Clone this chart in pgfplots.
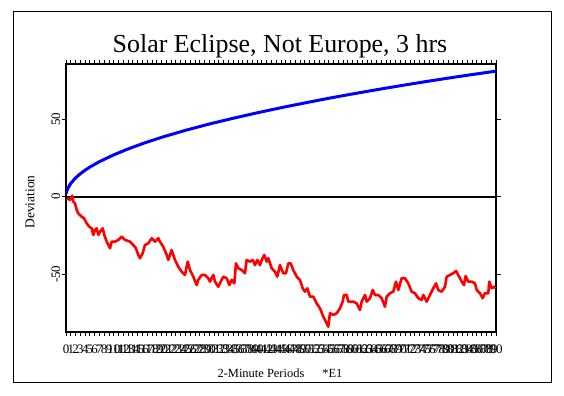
\documentclass[border=0pt]{standalone}
\usepackage{pgfplots}
\pgfplotsset{compat=1.18}
\usepackage{fontspec}
\setmainfont{Liberation Serif}
\definecolor{eblue}{RGB}{0,0,255}
\definecolor{ered}{RGB}{255,0,0}
\begin{document}
\begin{tikzpicture}
\useasboundingbox (0,0) rectangle (564bp,396bp);
\draw[line width=1bp] (13bp,13bp) rectangle (551bp,384bp);
\begin{axis}[
  at={(66bp,64bp)}, anchor=south west,
  scale only axis, width=430bp, height=268bp,
  xmin=0, xmax=90, ymin=-87.3, ymax=85.6,
  xtick={0,...,90}, ytick={-50,0,50},
  xtick pos=both, xticklabel pos=lower,
  ytick pos=both, yticklabel pos=left,
  tick align=outside, major tick length=4.5bp,
  tick style={black, line width=0.9bp},
  axis line style={line width=1.2bp},
  /pgf/number format/assume math mode=true,
  ticklabel style={font=\fontsize{13}{13}\selectfont},
  xticklabel style={inner sep=1.5bp, yshift=-7bp},
  yticklabel style={rotate=90, anchor=south, inner sep=1bp},
  clip=true,
]
\addplot[black, line width=1.8bp] coordinates {(0,0) (90,0)};
\addplot[eblue, line width=3bp] coordinates {
(0,2) (0.25,4.3) (0.5,6.0) (1,8.6) (2,12.1) (3,14.8) (4,17.1) (5,19.1)
(7,22.6) (10,27.0) (13,30.8) (16,34.2) (20,38.3) (25,42.8) (30,46.9)
(35,50.6) (40,54.1) (45,57.4) (50,60.5) (55,63.5) (60,66.3) (65,69.0)
(70,71.6) (75,74.1) (80,76.5) (85,78.8) (90,81.0)};
\addplot[ered, line width=2.6bp, line join=round] coordinates {
(0.15,-1.0) (0.84,-2.1) (1.32,0.6) (1.53,-3.2) (1.88,-4.3) (2.24,-8.6)
(2.57,-10.7) (3.29,-12.9) (3.77,-13.9) (4.33,-17.2) (4.88,-19.4) (5.38,-20.4)
(5.71,-24.7) (6.07,-21.5) (6.43,-20.4) (6.76,-24.7) (7.12,-22.6) (7.68,-20.4)
(8.02,-24.7) (8.52,-29.0) (9.21,-33.3) (9.56,-29.0) (10.26,-29.0) (10.95,-27.9)
(11.66,-25.8) (12.35,-27.9) (13.39,-29.0) (14.09,-31.2) (14.65,-33.3) (15.13,-37.6)
(15.49,-39.7) (16.05,-36.5) (16.53,-31.2) (17.22,-30.1) (17.94,-26.8) (18.63,-29.0)
(19.32,-26.8) (19.67,-29.0) (20.36,-32.3) (21.08,-37.6) (21.41,-40.8) (22.12,-34.4)
(22.81,-40.8) (23.50,-45.2) (24.22,-48.4) (24.91,-50.5) (25.47,-41.9) (25.95,-47.3)
(26.64,-51.6) (27.35,-57.0) (27.69,-53.7) (28.40,-50.5) (29.09,-50.5) (29.78,-52.6)
(30.14,-54.8) (30.83,-50.5) (31.18,-54.8) (31.88,-58.1) (32.38,-54.8) (32.92,-51.6)
(33.63,-52.6) (34.18,-57.0) (34.68,-53.7) (35.22,-55.9) (35.58,-43.0) (36.06,-46.2)
(36.77,-47.3) (37.46,-49.4) (37.82,-40.8) (38.51,-41.9) (39.08,-40.8) (39.56,-44.1)
(40.04,-40.8) (40.60,-44.1) (40.96,-40.8) (41.50,-37.6) (42.01,-41.9) (42.34,-39.7)
(43.05,-46.2) (43.74,-48.4) (44.22,-51.6) (44.79,-44.1) (45.48,-49.4) (46.04,-49.4)
(46.53,-43.0) (47.03,-43.0) (47.57,-47.3) (48.28,-51.6) (48.97,-53.7) (49.54,-59.1)
(50.02,-61.3) (50.50,-59.1) (51.07,-64.5) (51.76,-64.5) (52.47,-68.8) (53.16,-72.0)
(53.85,-77.4) (54.56,-81.7) (54.90,-83.9) (55.25,-75.2) (55.94,-76.3) (56.66,-75.2)
(57.35,-72.0) (57.91,-67.7) (58.18,-63.4) (58.75,-63.4) (59.08,-67.7) (59.44,-67.7)
(60.13,-67.7) (60.84,-68.8) (61.53,-73.1) (61.89,-67.7) (62.58,-63.4) (62.93,-67.7)
(63.63,-65.5) (64.19,-60.2) (64.67,-63.4) (65.36,-63.4) (66.07,-65.5) (66.76,-71.0)
(67.12,-64.5) (67.81,-62.3) (68.50,-61.3) (69.07,-54.8) (69.55,-60.2) (70.26,-52.6)
(70.95,-52.6) (71.64,-55.9) (72.35,-61.3) (73.04,-62.3) (73.73,-65.5) (74.45,-66.6)
(74.78,-63.4) (75.49,-67.7) (76.18,-63.4) (76.87,-59.1) (77.44,-55.9) (77.92,-60.2)
(78.63,-61.3) (79.32,-58.1) (79.68,-51.6) (80.37,-50.5) (81.06,-49.4) (81.62,-47.9)
(82.10,-50.5) (82.82,-54.8) (83.30,-57.0) (83.65,-51.2) (84.20,-54.8) (84.91,-54.8)
(85.60,-55.9) (85.96,-60.2) (86.65,-62.3) (87.21,-65.5) (87.69,-62.3) (88.38,-62.3)
(88.59,-54.8) (89.10,-59.1) (89.58,-58.1) (89.79,-59.1)};
\end{axis}
\node[anchor=base, font=\fontsize{26}{26}\selectfont] at (280bp,343bp) {Solar Eclipse, Not Europe, 3 hrs};
\node[anchor=base, font=\fontsize{12.5}{12.5}\selectfont] at (280bp,19bp) {2-Minute Periods\hspace{18bp}*E1};
\node[rotate=90, anchor=center, font=\fontsize{13.5}{13.5}\selectfont] at (30bp,194bp) {Deviation};
\end{tikzpicture}
\end{document}
